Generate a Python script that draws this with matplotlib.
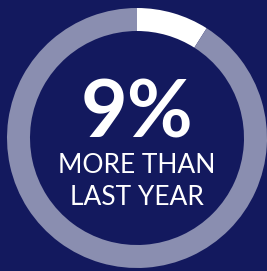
import matplotlib.pyplot as plt

share = [9, 91]
ring_colors = ['#ffffff', '#8a8eb0']
big_label = '9%'
lines = ['MORE THAN', 'LAST YEAR']

bg = '#13195e'

fig = plt.figure(figsize=(2.67, 2.71), dpi=100, facecolor=bg)
ax = fig.add_axes([0, 0, 1, 1])
ax.set_facecolor(bg)

ax.pie(share, colors=ring_colors, startangle=90, counterclock=False,
       radius=130, center=(137, 133),
       wedgeprops=dict(width=23, linewidth=0))

ax.set_xlim(0, 267)
ax.set_ylim(0, 271)
ax.set_aspect('auto')
ax.axis('off')

ax.text(137, 133, big_label, ha='center', va='baseline', color='white',
        fontsize=58, fontweight='bold', family='Lato')
ax.text(137, 98, lines[0], ha='center', va='baseline', color='white',
        fontsize=19, family='Lato')
ax.text(137, 66, lines[1], ha='center', va='baseline', color='white',
        fontsize=19, family='Lato')

fig.savefig('out.png', facecolor=bg)
